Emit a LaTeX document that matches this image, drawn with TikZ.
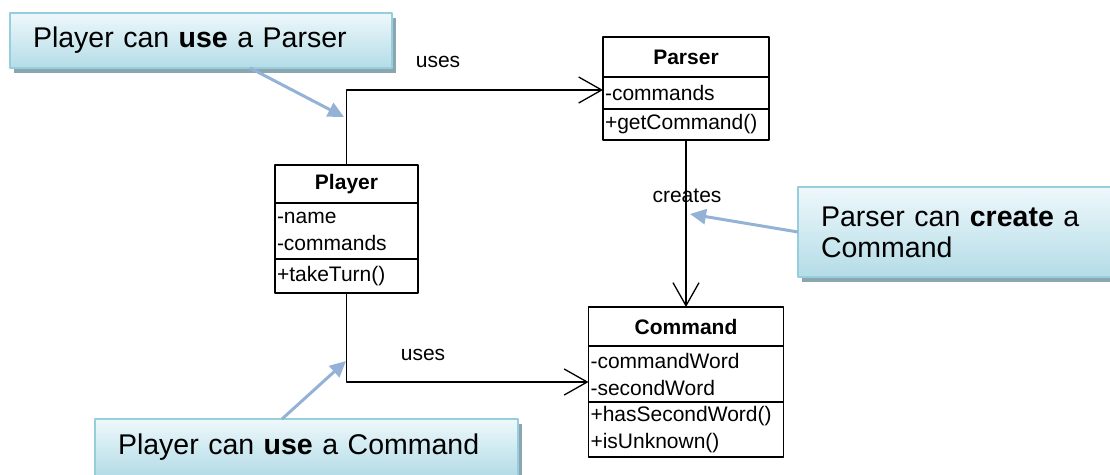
\documentclass[tikz,border=0pt]{standalone}
\usepackage{fontspec}
\setmainfont{Liberation Sans}
\usetikzlibrary{arrows.meta,positioning,shadows}
\definecolor{calloutedge}{RGB}{150,206,221}
\definecolor{callouttop}{RGB}{238,248,251}
\definecolor{calloutbottom}{RGB}{180,220,231}
\definecolor{calloutshade}{RGB}{140,166,176}
\definecolor{hintarrow}{RGB}{148,178,214}
\newcommand{\classfont}{\fontsize{21}{27}\selectfont}
\newcommand{\notefont}{\fontsize{28.5}{31}\selectfont}
\tikzset{
  every picture/.style={line join=round, >=Stealth},
  classhead/.style={draw, line width=1.3pt, outer sep=0pt, inner sep=2pt, font=\classfont\bfseries},
  classpart/.style={draw, line width=1.3pt, outer sep=0pt, inner xsep=2pt, inner ysep=0pt, align=left, font=\classfont},
  assoc/.style={line width=1.3pt, -{Straight Barb[length=23pt,width=26pt]}},
  note/.style={draw=calloutedge, line width=1.5pt, top color=callouttop, bottom color=calloutbottom,
    outer sep=0pt, inner xsep=23pt, align=left, font=\notefont,
    drop shadow={shadow xshift=4pt, shadow yshift=-5pt, fill=calloutshade, opacity=1}},
  hint/.style={draw=hintarrow, line width=3pt, -{Triangle[length=16pt,width=15pt]}},
  lbl/.style={font=\classfont},
}

\begin{document}
\begin{tikzpicture}[x=1pt,y=-1pt]
\path[use as bounding box, clip] (0,0) rectangle (1110,474);
% classes
\node[classhead, minimum width=166pt, minimum height=40pt] (parser) at (686,57) {Parser};
\node[classpart, text width=162pt, minimum height=32pt, below=0pt of parser] (parserattr) {-commands};
\node[classpart, text width=162pt, minimum height=31pt, below=0pt of parserattr] (parserops) {+getCommand()};

\node[classhead, minimum width=143pt, minimum height=38pt] (player) at (346.5,184) {Player};
\node[classpart, text width=139pt, minimum height=56pt, below=0pt of player] (playerattr) {-name\\-commands};
\node[classpart, text width=139pt, minimum height=34pt, below=0pt of playerattr] (playerops) {+takeTurn()};

\node[classhead, minimum width=195pt, minimum height=39pt] (command) at (686,326.5) {Command};
\node[classpart, text width=191pt, minimum height=56pt, below=0pt of command] (commandattr) {-commandWord\\-secondWord};
\node[classpart, text width=191pt, minimum height=55pt, below=0pt of commandattr] (commandops) {+hasSecondWord()\\+isUnknown()};

% associations
\draw[assoc] (player.north) |- ([yshift=3pt]parserattr.west);
\draw[assoc] (playerops.south) |- ([yshift=-8pt]commandattr.west);
\draw[assoc] (parserops.south) -- (command.north);
\node[lbl] (usesparser) at (438,62) {uses};
\node[lbl] (usescommand) at (423,355) {uses};
\node[lbl] (creates) at (687,196) {creates};

% notes
\node[note, minimum width=382pt, minimum height=55pt, text width=336pt] (noteparser) at (201,40.5) {Player can \textbf{use} a Parser};
\node[note, minimum width=340pt, minimum height=90pt, text width=294pt] (notecreate) at (968,232) {Parser can \textbf{create} a\\Command};
\node[note, anchor=north west, text width=377pt, inner ysep=15pt] (notecommand) at (95,419) {Player can \textbf{use} a Command};

\coordinate (tipparser) at (344,117);
\coordinate (tipcreate) at (690,214);
\coordinate (tipcommand) at (346,361);
\draw[hint] ([xshift=49pt]noteparser.south) -- (tipparser);
\draw[hint] (notecreate.west) -- (tipcreate);
\draw[hint] ([xshift=187pt]notecommand.north west) -- (tipcommand);
\end{tikzpicture}
\end{document}
